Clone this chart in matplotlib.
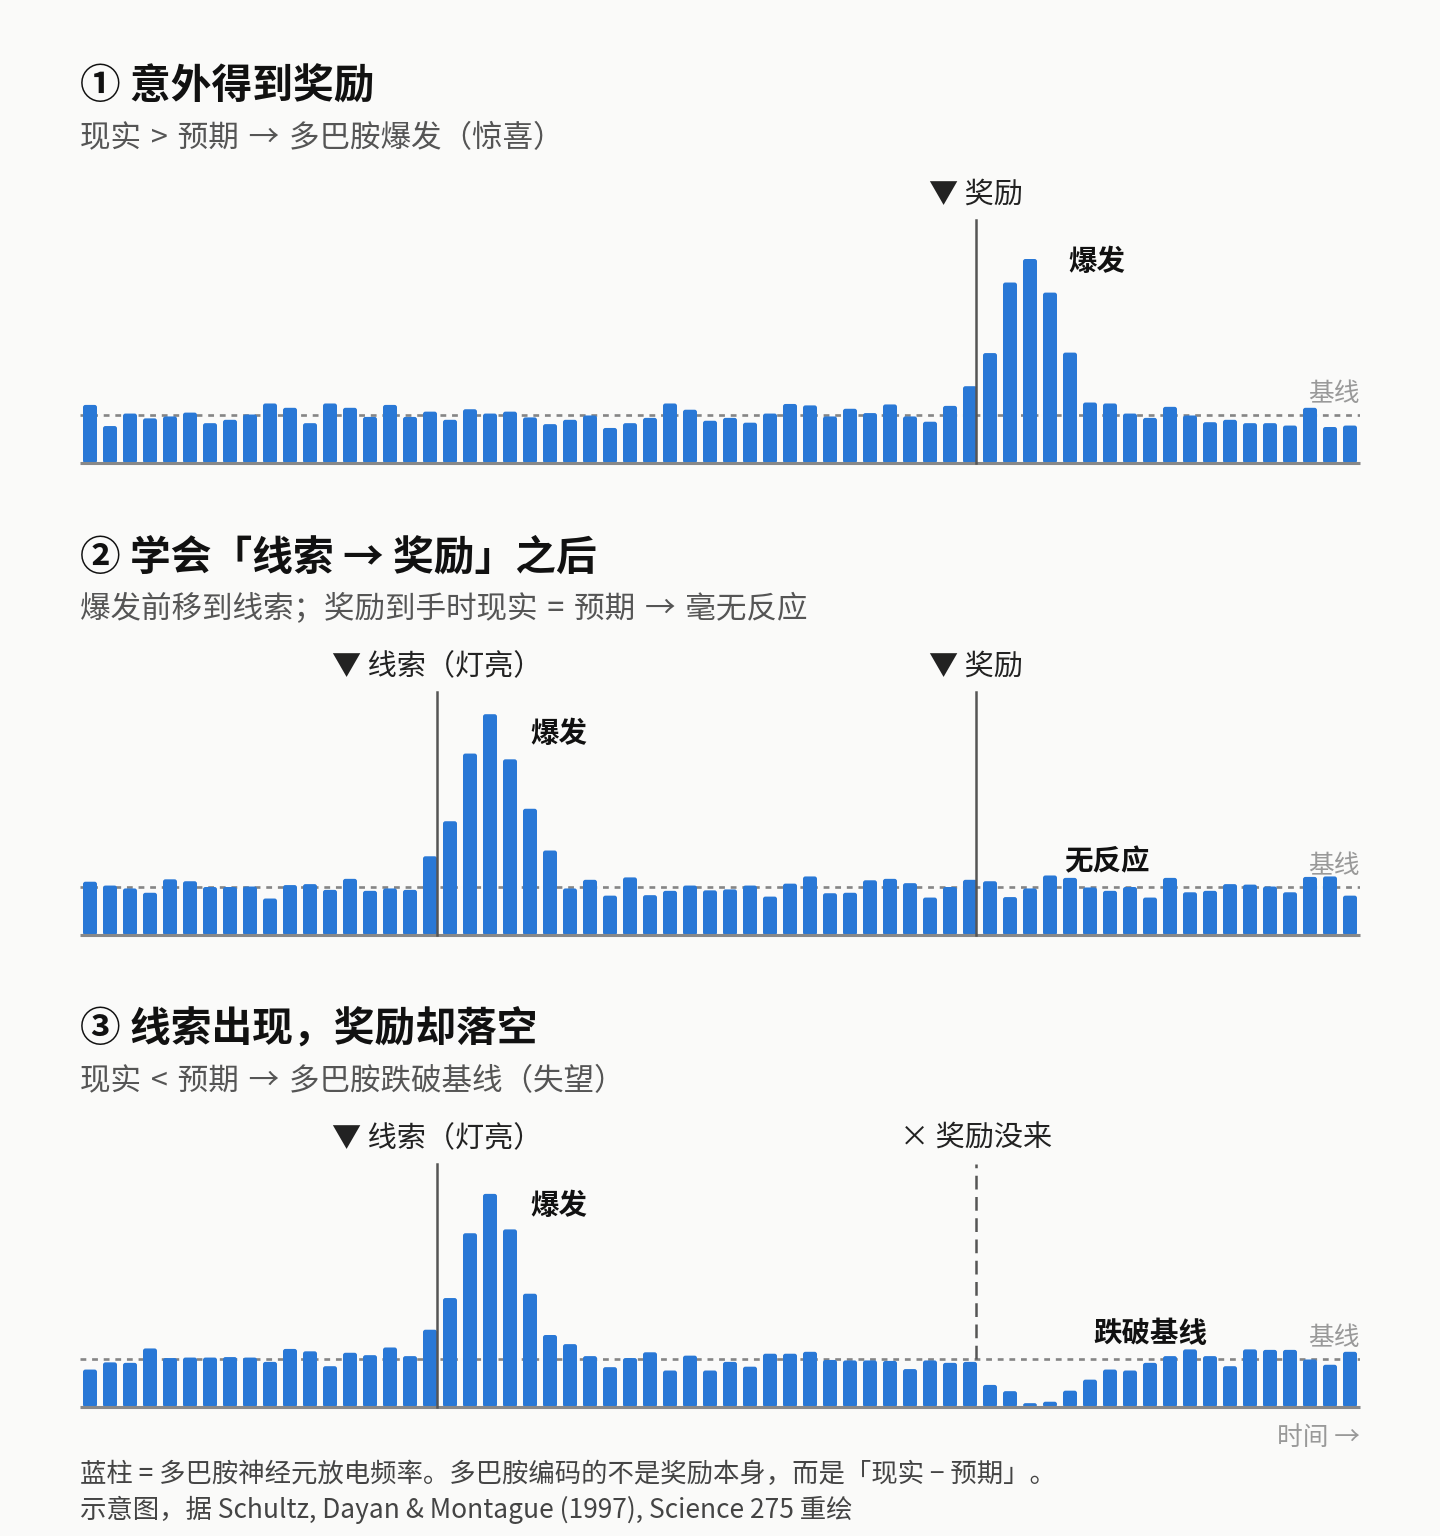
import matplotlib
matplotlib.use("Agg")
import matplotlib.pyplot as plt
from matplotlib.patches import FancyBboxPatch

plt.rcParams['font.family'] = ['Noto Sans CJK SC', 'DejaVu Sans']

# firing rate per time bin (baseline = 10)
rate_surprise = [12.1, 7.7, 10.3, 9.3, 9.7, 10.5, 8.3, 9.0, 10.1, 12.4, 11.5, 8.3, 12.4, 11.5, 9.6, 12.1,
                 9.6, 10.7, 9.0, 11.2, 10.3, 10.7, 9.5, 8.1, 9.0, 9.9, 7.3, 8.3, 9.4, 12.4, 11.1, 8.8,
                 9.4, 8.4, 10.3, 12.3, 12.0, 9.7, 11.3, 10.4, 12.2, 9.7, 8.6, 11.9, 16.0, 22.9, 37.6, 42.5,
                 35.5, 23.0, 12.6, 12.4, 10.3, 9.4, 11.7, 9.9, 8.5, 9.0, 8.3, 8.3, 7.8, 11.5, 7.5, 7.8]
rate_learned = [11.1, 10.3, 9.7, 8.8, 11.6, 11.2, 10.0, 10.0, 10.1, 7.6, 10.4, 10.6, 9.4, 11.7, 9.2, 9.7,
                9.4, 16.4, 23.7, 37.8, 46.0, 36.6, 26.3, 17.6, 9.7, 11.5, 8.2, 12.0, 8.3, 9.2, 10.3, 9.3,
                9.5, 10.3, 8.0, 10.7, 12.2, 8.7, 8.8, 11.4, 11.7, 10.8, 7.8, 10.0, 11.5, 11.2, 7.9, 9.7,
                12.4, 11.9, 9.9, 9.2, 10.0, 7.8, 11.9, 8.9, 9.2, 10.6, 10.5, 10.1, 8.9, 12.1, 12.2, 8.2]
rate_omitted = [7.8, 9.3, 9.2, 12.2, 10.2, 10.3, 10.3, 10.4, 10.3, 9.4, 12.1, 11.6, 8.5, 11.3, 10.8, 12.4,
                10.6, 16.1, 22.7, 36.2, 44.4, 37.0, 23.6, 15.0, 13.1, 10.6, 8.3, 10.2, 11.4, 7.6, 10.7, 7.6,
                9.4, 8.4, 11.1, 11.1, 11.5, 9.8, 9.7, 9.7, 9.6, 7.9, 9.7, 9.2, 9.4, 4.6, 3.3, 0.8,
                1.1, 3.4, 5.7, 7.8, 7.6, 9.2, 10.6, 12.0, 10.6, 8.5, 12.0, 11.9, 11.9, 9.9, 8.8, 11.5]
baseline = 10
cue_t = 17.87
reward_t = 44.8

titles = ['① 意外得到奖励', '② 学会「线索 → 奖励」之后', '③ 线索出现，奖励却落空']
subtitles = ['现实 > 预期 → 多巴胺爆发（惊喜）',
             '爆发前移到线索；奖励到手时现实 = 预期 → 毫无反应',
             '现实 < 预期 → 多巴胺跌破基线（失望）']
footnotes = ['蓝柱 = 多巴胺神经元放电频率。多巴胺编码的不是奖励本身，而是「现实 − 预期」。',
             '示意图，据 Schultz, Dayan & Montague (1997), Science 275 重绘']

W, H = 1440, 1536
BLUE = '#2978D6'
BG = '#FAFAF9'
fig = plt.figure(figsize=(W / 100, H / 100), dpi=100, facecolor=BG)

def fy(y):
    return 1 - y / H

def spaced(s):
    # slightly wider gaps around the operators, as in the original
    return s.replace(' ', ' \u200a')

def bar_panel(rates, y_axis, title, subtitle, y_title):
    # axes: 1 unit = 4.8 px, bars every 20 px
    ax = fig.add_axes([80 / W, fy(y_axis), 1280 / W, 52 * 4.8 / H])
    ax.set_xlim(0, len(rates))
    ax.set_ylim(0, 52)
    ax.axis('off')
    ax.set_facecolor('none')
    xs = [i + 0.5 for i in range(len(rates))]
    bars = ax.bar(xs, rates, width=0.7, color=BLUE, zorder=3)
    for b in bars:
        b.set_visible(False)
        ax.add_patch(FancyBboxPatch((b.get_x(), 0), b.get_width(), b.get_height(),
                                    boxstyle='round,pad=0,rounding_size=0.12',
                                    mutation_aspect=20 / 4.8, fc=BLUE, ec='none', zorder=3))
    ax.axhline(baseline, color='#858585', lw=1.9, dashes=(2.2, 2.2), zorder=2)
    ax.plot([0, len(rates)], [0, 0], color='#888888', lw=2.2, zorder=4,
            solid_capstyle='butt', clip_on=False)
    ax.text(64, 14.3, '基线', ha='right', va='center', fontsize=18.5, color='#999999')
    fig.text(80 / W, fy(y_title), title, fontsize=29.3, fontweight='bold', color='#111111',
             va='center', ha='left')
    fig.text(80 / W, fy(y_title + 52), spaced(subtitle), fontsize=22, color='#555555',
             va='center', ha='left')
    return ax

def event(ax, t, label, dashed=False):
    if dashed:
        ax.plot([t, t], [baseline, 50.6], color='#555555', lw=1.8, dashes=(5.5, 3),
                zorder=5, clip_on=False)
    else:
        ax.plot([t, t], [0, 50.6], color='#555555', lw=1.8, zorder=5, clip_on=False)
    ax.text(t, 55.8, label, ha='center', va='center', fontsize=21, color='#222222')

def note(ax, x, y, s, ha='left'):
    ax.text(x, y, s, ha=ha, va='center', fontsize=20.5, fontweight='bold', color='#111111')

ax1 = bar_panel(rate_surprise, 463, titles[0], subtitles[0], 87)
event(ax1, reward_t, '▼ 奖励')
note(ax1, 49.4, 41.9, '爆发')

ax2 = bar_panel(rate_learned, 935, titles[1], subtitles[1], 558)
event(ax2, cue_t, '▼ 线索（灯亮）')
event(ax2, reward_t, '▼ 奖励')
note(ax2, 22.5, 41.9, '爆发')
note(ax2, 51.35, 15.2, '无反应', ha='center')

ax3 = bar_panel(rate_omitted, 1407, titles[2], subtitles[2], 1030)
event(ax3, cue_t, '▼ 线索（灯亮）')
event(ax3, reward_t, '× 奖励没来', dashed=True)
note(ax3, 22.5, 41.9, '爆发')
note(ax3, 53.5, 15.2, '跌破基线', ha='center')
ax3.text(64, -6.5, '时间 →', ha='right', va='center', fontsize=18.5, color='#999999')

fig.text(80 / W, fy(1474), footnotes[0], fontsize=19, color='#444444', va='center', ha='left')
fig.text(80 / W, fy(1510), footnotes[1], fontsize=19, color='#444444', va='center', ha='left')

fig.savefig('out.png', dpi=100, facecolor=BG)
